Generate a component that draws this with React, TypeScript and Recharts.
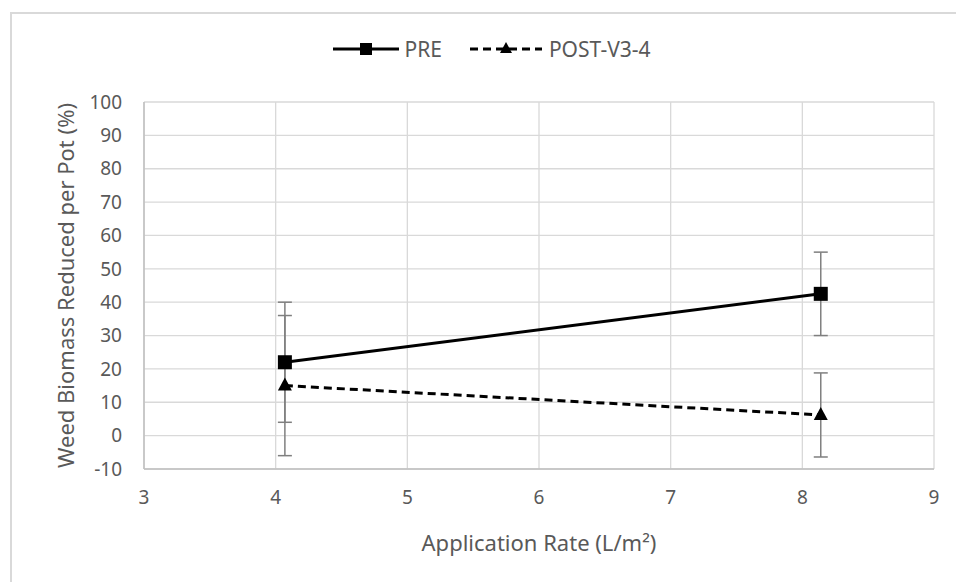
import React from 'react'
import { CartesianGrid, ErrorBar, Label, Legend, Line, LineChart, XAxis, YAxis } from 'recharts'

const rates = [4.07, 8.14]
const preValues = [22, 42.5]
const preErrors = [18, 12.5]
const postValues = [15, 6.2]
const postErrors = [21, 12.6]
const xTicks = [3, 4, 5, 6, 7, 8, 9]
const yTicks = [-10, 0, 10, 20, 30, 40, 50, 60, 70, 80, 90, 100]

const data = rates.map((r, i) => ({
  rate: r,
  pre: preValues[i],
  preErr: preErrors[i],
  post: postValues[i],
  postErr: postErrors[i],
}))

const FONT = '"Noto Sans", "Open Sans", sans-serif'
const TEXT = '#595959'

const SquareDot = (props: any) => {
  const { cx, cy } = props
  if (cx == null || cy == null) return null
  return <rect x={cx - 7} y={cy - 7} width={14} height={14} fill="#000" />
}

const TriangleDot = (props: any) => {
  const { cx, cy } = props
  if (cx == null || cy == null) return null
  return <polygon points={`${cx},${cy - 8} ${cx - 7},${cy + 5} ${cx + 7},${cy + 5}`} fill="#000" />
}

const renderLegend = () => (
  <div style={{ display: 'flex', justifyContent: 'center', alignItems: 'center', fontFamily: FONT, fontSize: 21, color: TEXT, paddingLeft: 28 }}>
    <svg width={66} height={20}>
      <line x1={0} y1={10} x2={66} y2={10} stroke="#000" strokeWidth={3} />
      <rect x={27} y={4} width={12} height={12} fill="#000" />
    </svg>
    <span style={{ marginLeft: 5, marginRight: 28 }}>PRE</span>
    <svg width={72} height={20}>
      <line x1={0} y1={10} x2={72} y2={10} stroke="#000" strokeWidth={3} strokeDasharray="8 5" />
      <polygon points="36,3 30,14 42,14" fill="#000" />
    </svg>
    <span style={{ marginLeft: 7 }}>POST-V3-4</span>
  </div>
)

export default function App() {
  return (
    <div style={{ position: 'absolute', left: 0, top: 0, width: 956, height: 582, overflow: 'hidden', background: '#fff' }}>
      <div style={{ position: 'absolute', left: 10, top: 12, width: 1000, height: 700, border: '2px solid #d9d9d9' }} />
      <div style={{ position: 'absolute', left: 0, top: 0 }}>
        <LineChart width={956} height={582} data={data} margin={{ top: 102, right: 22, left: 44, bottom: 23 }}>
          <CartesianGrid stroke="#d9d9d9" strokeWidth={1.3} />
          <XAxis
            dataKey="rate"
            type="number"
            domain={[3, 9]}
            ticks={xTicks}
            tickLine={false}
            axisLine={{ stroke: '#bfbfbf', strokeWidth: 1.5 }}
            tick={{ fill: TEXT, fontSize: 19, fontFamily: FONT }}
            tickMargin={16}
            height={90}
          >
            <Label value="Application Rate (L/m²)" position="insideBottom" offset={8} style={{ fill: TEXT, fontSize: 22, fontFamily: FONT }} />
          </XAxis>
          <YAxis
            type="number"
            domain={[-10, 100]}
            ticks={yTicks}
            tickLine={false}
            axisLine={{ stroke: '#bfbfbf', strokeWidth: 1.5 }}
            tick={{ fill: TEXT, fontSize: 19, fontFamily: FONT }}
            tickMargin={16}
            width={100}
          >
            <Label value="Weed Biomass Reduced per Pot (%)" angle={-90} position="center" dx={-28} style={{ fill: TEXT, fontSize: 22, fontFamily: FONT, textAnchor: 'middle' }} />
          </YAxis>
          <Legend verticalAlign="middle" content={renderLegend} wrapperStyle={{ top: 35, left: 0, width: 956 }} />
          <Line dataKey="pre" name="PRE" stroke="#000" strokeWidth={3} dot={<SquareDot />} activeDot={false} isAnimationActive={false}>
            <ErrorBar dataKey="preErr" direction="y" width={7} stroke="#7f7f7f" strokeWidth={1.5} />
          </Line>
          <Line dataKey="post" name="POST-V3-4" stroke="#000" strokeWidth={3} strokeDasharray="8 5" dot={<TriangleDot />} activeDot={false} isAnimationActive={false}>
            <ErrorBar dataKey="postErr" direction="y" width={7} stroke="#7f7f7f" strokeWidth={1.5} />
          </Line>
        </LineChart>
      </div>
    </div>
  )
}
